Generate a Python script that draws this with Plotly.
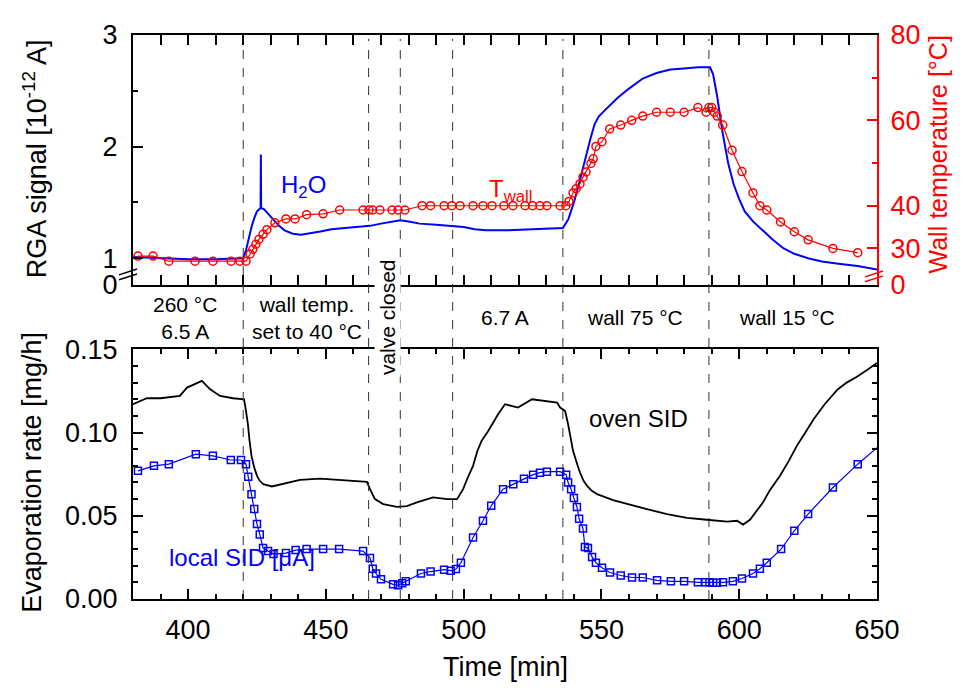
import plotly.graph_objects as go

# ---------------- data ----------------
rga_time = [380, 390, 400, 410, 420, 421, 422, 423, 424, 425, 426.3, 426.4, 426.5, 427.5, 429,
            431, 433, 435, 438, 441, 444, 448, 452, 456, 462, 466, 470, 474, 477, 480, 484,
            490, 496, 500, 504, 508, 515, 525, 536, 538, 540, 542, 544, 546, 547.5, 549, 551,
            553, 556, 560, 565, 570, 575, 580, 585, 589.4, 590.5, 592, 594, 596, 598, 600, 602,
            605, 608, 612, 616, 620, 625, 630, 636, 643, 650]
rga_signal = [1.01, 1.0, 0.99, 0.99, 1.0, 1.07, 1.18, 1.28, 1.36, 1.42, 1.45, 1.93, 1.45, 1.44,
              1.40, 1.34, 1.29, 1.25, 1.22, 1.21, 1.22, 1.24, 1.26, 1.27, 1.28, 1.29, 1.31,
              1.33, 1.34, 1.33, 1.31, 1.30, 1.29, 1.28, 1.26, 1.25, 1.25, 1.26, 1.27, 1.35,
              1.50, 1.68, 1.88, 2.07, 2.20, 2.27, 2.32, 2.37, 2.44, 2.52, 2.61, 2.66, 2.69,
              2.70, 2.71, 2.71, 2.65, 2.45, 2.12, 1.85, 1.66, 1.53, 1.42, 1.33, 1.26, 1.17,
              1.09, 1.04, 1.00, 0.97, 0.95, 0.93, 0.90]

wall_time = [381.8, 387.3, 393, 402.5, 409, 415.6, 418.8, 421, 422.5, 423.5, 424.6, 425.7, 427.2,
             428.6, 431.5, 435.5, 438.8, 443, 449, 455, 463.5, 465.6, 467, 469.6, 474, 476.2, 478.7,
             484.9, 488, 492.9, 495.7, 498.7, 503.4, 507, 510.3, 514.6, 517.9, 522.3, 525, 527.7,
             530.2, 535, 537.1, 538.2, 539.7, 540.8, 542.2, 543.3, 544.4, 546.2, 547, 548, 550.2,
             553, 557, 561, 565, 570, 575, 580, 585, 588, 589, 590, 591, 592, 594, 597.4, 601,
             605, 607.5, 610, 615, 620, 625, 634, 643]
wall_temp = [28.2, 28.2, 27.0, 27.0, 27.0, 27.0, 27.0, 27.0, 28.7, 29.8, 31.0, 32.1, 33.3,
             34.4, 36.0, 36.9, 36.9, 37.9, 38.1, 39.0, 39.0, 39.0, 39.0, 39.0, 39.0, 39.0, 39.0,
             40.0, 40.0, 40.0, 40.0, 40.0, 40.0, 40.0, 40.0, 40.0, 40.0, 40.0, 40.0, 40.0,
             40.0, 40.0, 40.0, 41.0, 43.0, 44.0, 45.1, 46.7, 47.9, 49.9, 51.0, 53.9, 55.0,
             58.0, 58.9, 60.0, 61.0, 61.9, 61.9, 61.9, 63.0, 61.9, 63.0, 63.0, 61.9, 61.0, 58.9,
             53.0, 48.0, 43.0, 40.0, 39.0, 36.2, 33.9, 32.0, 30.0, 29.0]

oven_time = [380, 385, 390, 397, 399.6, 405, 408, 411.6, 416.3, 420.3, 421, 421.7, 422.3, 423,
             424, 425, 426, 427.3, 430.4, 434.4, 440.6, 447.9, 456, 464.9, 466, 467.8, 470.8,
             475.8, 479.4, 483, 488.9, 494, 497.6, 499.8, 501.5, 503.4, 505, 506.5, 508.8, 512.5,
             515, 517.9, 519.7, 524.8, 530.2, 533.9, 535, 536.8, 537.9, 538.8, 539.7, 541, 542.2,
             543.5, 544.8, 546.5, 548.4, 554.2, 560.4, 566.5, 573.8, 581, 588.3, 595.6, 599.2,
             601.4, 603.9, 606, 608.6, 611, 614.8, 618, 620.9, 624, 627, 631, 635.8, 639, 642.7,
             646.4, 650]
oven_sid = [0.117, 0.1206, 0.1206, 0.122, 0.127, 0.131, 0.126, 0.122, 0.1206, 0.120, 0.113,
            0.105, 0.095, 0.086, 0.079, 0.074, 0.071, 0.069, 0.0676, 0.069, 0.0716, 0.0723,
            0.0716, 0.0704, 0.066, 0.060, 0.057, 0.0553, 0.0558, 0.058, 0.061, 0.060, 0.060,
            0.066, 0.073, 0.080, 0.089, 0.095, 0.1006, 0.111, 0.117, 0.116, 0.115, 0.120,
            0.1188, 0.118, 0.115, 0.113, 0.105, 0.097, 0.089, 0.082, 0.076, 0.071, 0.068,
            0.065, 0.063, 0.0594, 0.0565, 0.054, 0.051, 0.0488, 0.0476, 0.0465, 0.047, 0.0447,
            0.0476, 0.052, 0.058, 0.065, 0.074, 0.083, 0.092, 0.100, 0.108, 0.117, 0.126,
            0.130, 0.1335, 0.1376, 0.1418]

local_time = [381.8, 387.6, 393, 402.8, 409, 415.5, 419.2, 421, 421.8, 423, 424, 425, 426, 427.2,
              429, 431, 435.5, 439, 443, 449, 454.8, 463.5, 466, 467, 468.2, 470, 474.4, 476.2,
              477.7, 479, 484.5, 488, 492.9, 495.3, 497.2, 499, 503.4, 507, 510, 514.3, 518,
              521.9, 525.2, 527.7, 530.2, 535, 537.2, 537.9, 539, 540, 541.1, 541.9, 543.3, 544,
              545.1, 546.6, 548, 550.2, 553.1, 557, 561.1, 565, 570.2, 575.2, 580, 585, 587.7,
              589.2, 590.5, 591.9, 594.1, 597.7, 601, 605, 607.5, 610, 615.2, 620, 625, 634,
              643, 655]
local_sid = [0.077, 0.080, 0.081, 0.087, 0.086, 0.0835, 0.0835, 0.081, 0.0735, 0.063, 0.054,
             0.045, 0.0388, 0.0306, 0.0288, 0.027, 0.0276, 0.0294, 0.030, 0.030, 0.030, 0.0288,
             0.0247, 0.0182, 0.0153, 0.0118, 0.0088, 0.0082, 0.0094, 0.0106, 0.0153, 0.0165,
             0.0176, 0.017, 0.018, 0.0218, 0.037, 0.047, 0.056, 0.066, 0.069, 0.0723, 0.0747,
             0.0759, 0.0765, 0.0765, 0.0747, 0.070, 0.066, 0.0606, 0.0553, 0.0482, 0.0424,
             0.0312, 0.0306, 0.0253, 0.0218, 0.0188, 0.0159, 0.0141, 0.0129, 0.0129, 0.0112,
             0.0106, 0.0106, 0.010, 0.010, 0.010, 0.0098, 0.0098, 0.010, 0.0106, 0.0123,
             0.0153, 0.0182, 0.0218, 0.030, 0.041, 0.051, 0.067, 0.081, 0.098]

phase_bounds = [420, 465.5, 477, 496, 536, 589]

phase_labels = ["260 °C<br>6.5 A", "wall temp.<br>set to 40 °C", "6.7 A", "wall 75 °C", "wall 15 °C"]
phase_label_x = [398.9, 443.1, 515, 562, 617.2]

rga_ticks = [0.763, 1, 2, 3]
rga_ticktext = ["0", "1", "2", "3"]
temp_ticks = [21.5, 30, 40, 60, 80]
temp_ticktext = ["0", "30", "40", "60", "80"]

# ---------------- layout helpers ----------------
# page body has an 8px margin: figure is placed at (8, 8) in the window
OFF = 8
W, H = 962 - 2 * OFF, 690 - 2 * OFF
L, R, T, B = 133, 877, 23, 599          # plot-area edges in window pixels
FONT = "Liberation Sans, Arial, Helvetica, sans-serif"


def px(xp):
    return (xp - L) / (R - L)


def py(yp):
    return (B - yp) / (B - T)


top_dom = [py(278), 1]
bot_dom = [0, py(344)]

fig = go.Figure()

fig.add_trace(go.Scatter(x=rga_time, y=rga_signal, mode="lines", xaxis="x", yaxis="y",
                         line=dict(color="#0000ff", width=2), showlegend=False))
fig.add_trace(go.Scatter(x=wall_time, y=wall_temp, mode="lines+markers", xaxis="x", yaxis="y2",
                         line=dict(color="#ff0000", width=1.2),
                         marker=dict(symbol="circle-open", size=8, color="#ff0000",
                                     line=dict(width=1.5, color="#ff0000")),
                         showlegend=False))
fig.add_trace(go.Scatter(x=oven_time, y=oven_sid, mode="lines", xaxis="x2", yaxis="y3",
                         line=dict(color="#000000", width=1.8), showlegend=False))
fig.add_trace(go.Scatter(x=local_time, y=local_sid, mode="lines+markers", xaxis="x2", yaxis="y3",
                         line=dict(color="#0000ff", width=1.2),
                         marker=dict(symbol="square-open", size=7, color="#0000ff",
                                     line=dict(width=1.5, color="#0000ff")),
                         showlegend=False, cliponaxis=True))

axis_common = dict(showgrid=False, zeroline=False, showline=True, linewidth=2, linecolor="black",
                   ticks="inside", ticklen=10, tickwidth=2, tickcolor="black",
                   tickfont=dict(family=FONT, size=27, color="black"))

fig.update_layout(
    width=W, height=H,
    margin=dict(l=L - OFF, r=(962 - OFF) - R, t=T - OFF, b=(690 - OFF) - B, pad=0),
    paper_bgcolor="white", plot_bgcolor="white",
    font=dict(family=FONT, size=27, color="black"),
    xaxis=dict(domain=[0, 1], anchor="y", range=[380, 650], dtick=50, tick0=0,
               showticklabels=False, mirror="allticks",
               minor=dict(ticks="inside", dtick=10, ticklen=5, tickwidth=1.5, tickcolor="black"),
               **axis_common),
    yaxis=dict(domain=top_dom, anchor="x", range=[0.763, 3], tickmode="array",
               tickvals=rga_ticks, ticktext=rga_ticktext, ticklabelstandoff=8,
               minor=dict(ticks="inside", tickmode="array", tickvals=[1.5, 2.5], ticklen=5,
                          tickwidth=1.5, tickcolor="black"),
               **axis_common),
    yaxis2=dict(overlaying="y", side="right", anchor="x", range=[21.5, 80], tickmode="array",
                tickvals=temp_ticks, ticktext=temp_ticktext, ticklabelstandoff=6,
                showgrid=False, zeroline=False, showline=True, linewidth=2, linecolor="#ff0000",
                ticks="inside", ticklen=10, tickwidth=2, tickcolor="#ff0000",
                tickfont=dict(family=FONT, size=27, color="#ff0000"),
                minor=dict(ticks="inside", tickmode="array", tickvals=[50, 70], ticklen=5,
                           tickwidth=1.5, tickcolor="#ff0000")),
    xaxis2=dict(domain=[0, 1], anchor="y3", range=[380, 650], dtick=50, tick0=0,
                mirror="allticks", ticklabelstandoff=6,
                minor=dict(ticks="inside", dtick=10, ticklen=5, tickwidth=1.5, tickcolor="black"),
                **axis_common),
    yaxis3=dict(domain=bot_dom, anchor="x2", range=[0, 0.15], dtick=0.05, tick0=0,
                tickformat=".2f", mirror="allticks", ticklabelstandoff=8,
                minor=dict(ticks="inside", dtick=0.01, ticklen=5, tickwidth=1.5, tickcolor="black"),
                **axis_common),
)

shapes = []
for xb in phase_bounds:
    shapes.append(dict(type="line", xref="x", yref="paper", x0=xb, x1=xb, y0=0, y1=py(27),
                       line=dict(color="#333333", width=1, dash="dash"), layer="above"))
# axis break marks
for dy in (0, 5):
    shapes.append(dict(type="line", xref="paper", yref="paper",
                       x0=px(119), y0=py(268 + dy), x1=px(137), y1=py(262 + dy),
                       line=dict(color="black", width=1.5)))
    shapes.append(dict(type="line", xref="paper", yref="paper",
                       x0=px(865), y0=py(270 + dy), x1=px(883), y1=py(264 + dy),
                       line=dict(color="#ff0000", width=1.5)))
fig.update_layout(shapes=shapes)

ann = []
for lab, xl in zip(phase_labels, phase_label_x):
    ann.append(dict(text=lab, x=xl, y=py(312), xref="x", yref="paper", showarrow=False,
                    xanchor="center", yanchor="middle",
                    font=dict(family=FONT, size=21, color="black")))
ann.append(dict(text="valve closed", x=472.2, y=py(311), xref="x", yref="paper", showarrow=False,
                textangle=-90, xanchor="center", yanchor="middle", bgcolor="white", borderpad=1,
                font=dict(family=FONT, size=21, color="black")))
ann.append(dict(text="H<sub>2</sub>O", x=441.7, y=py(160), xref="x", yref="paper", showarrow=False,
                font=dict(family=FONT, size=24, color="#0000ff")))
ann.append(dict(text="T<sub>wall</sub>", x=517, y=py(164), xref="x", yref="paper", showarrow=False,
                font=dict(family=FONT, size=24, color="#ff0000")))
ann.append(dict(text="oven SID", x=563.3, y=py(430), xref="x", yref="paper", showarrow=False,
                font=dict(family=FONT, size=24, color="black")))
ann.append(dict(text="local SID [μA]", x=419.7, y=py(572), xref="x", yref="paper", showarrow=False,
                font=dict(family=FONT, size=24, color="#0000ff")))
# axis titles
ann.append(dict(text="RGA signal [10<sup>-12</sup> A]", x=px(35), y=py(150), xref="paper", yref="paper",
                showarrow=False, textangle=-90, xanchor="center", yanchor="middle",
                font=dict(family=FONT, size=27, color="black")))
ann.append(dict(text="Wall temperature [°C]", x=px(938), y=py(145), xref="paper", yref="paper",
                showarrow=False, textangle=-90, xanchor="center", yanchor="middle",
                font=dict(family=FONT, size=25, color="#ff0000")))
ann.append(dict(text="Evaporation rate [mg/h]", x=px(32), y=py(470), xref="paper", yref="paper",
                showarrow=False, textangle=-90, xanchor="center", yanchor="middle",
                font=dict(family=FONT, size=27, color="black")))
ann.append(dict(text="Time [min]", x=px(505), y=py(668), xref="paper", yref="paper",
                showarrow=False, xanchor="center", yanchor="middle",
                font=dict(family=FONT, size=27, color="black")))
fig.update_layout(annotations=ann)

fig.write_html("out.html")
